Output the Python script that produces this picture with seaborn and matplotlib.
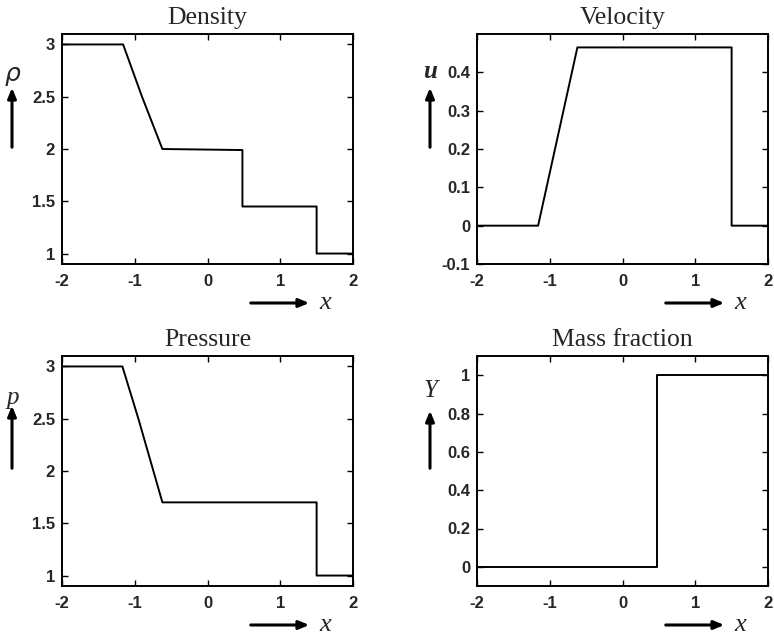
import matplotlib
matplotlib.use("Agg")
import matplotlib.pyplot as plt
import seaborn as sns
import pandas as pd

# ---- data ----
x_rho = [-2.0, -1.16, -0.90, -0.62, 0.48, 0.48, 1.50, 1.50, 2.0]
rho = [3.0, 3.0, 2.50, 2.0, 1.99, 1.45, 1.45, 1.0, 1.0]

x_u = [-2.0, -1.16, -0.62, 1.50, 1.50, 2.0]
u = [0.0, 0.0, 0.465, 0.465, 0.0, 0.0]

x_p = [-2.0, -1.17, -0.95, -0.62, 1.50, 1.50, 2.0]
p = [3.0, 3.0, 2.50, 1.70, 1.70, 1.0, 1.0]

x_Y = [-2.0, 0.47, 0.47, 2.0]
Y = [0.0, 0.0, 1.0, 1.0]

titles = ["Density", "Velocity", "Pressure", "Mass fraction"]
ylabels = [r"$\rho$", "u", "p", "Y"]
xticks = [-2, -1, 0, 1, 2]
yticks_rho = [1, 1.5, 2, 2.5, 3]
yticks_u = [-0.1, 0, 0.1, 0.2, 0.3, 0.4]
yticks_p = [1, 1.5, 2, 2.5, 3]
yticks_Y = [0, 0.2, 0.4, 0.6, 0.8, 1]

sns.set_style("ticks")
plt.rcParams["font.family"] = ["Liberation Sans", "DejaVu Sans"]

W, H = 774, 636
fig = plt.figure(figsize=(W / 100, H / 100), dpi=100)

def frac(px, py):
    return px / W, 1 - py / H

# axes rects in pixels (left, top, right, bottom)
rects = [(62, 34, 353, 264), (477, 34, 768, 264),
         (62, 356, 353, 586), (477, 356, 768, 586)]
panels = [
    (x_rho, rho, yticks_rho, (0.9, 3.1), ["1", "1.5", "2", "2.5", "3"]),
    (x_u, u, yticks_u, (-0.1, 0.5), ["-0.1", "0", "0.1", "0.2", "0.3", "0.4"]),
    (x_p, p, yticks_p, (0.9, 3.1), ["1", "1.5", "2", "2.5", "3"]),
    (x_Y, Y, yticks_Y, (-0.1, 1.1), ["0", "0.2", "0.4", "0.6", "0.8", "1"]),
]

axes = []
for (l, t, r, b), (xs, ys, yt, ylim, ytl), title in zip(rects, panels, titles):
    ax = fig.add_axes([l / W, 1 - b / H, (r - l) / W, (b - t) / H])
    df = pd.DataFrame({"x": xs, "y": ys})
    sns.lineplot(data=df, x="x", y="y", ax=ax, sort=False, estimator=None,
                 color="black", linewidth=1.4)
    ax.set_xlim(-2, 2)
    ax.set_ylim(*ylim)
    ax.set_xticks(xticks)
    ax.set_xticklabels([str(v) for v in xticks])
    ax.set_yticks(yt)
    ax.set_yticklabels(ytl)
    ax.set_xlabel("")
    ax.set_ylabel("")
    ax.tick_params(direction="in", top=True, right=True, length=4, width=1,
                   labelsize=12, color="black")
    ax.tick_params(axis="x", pad=7)
    ax.tick_params(axis="y", pad=5)
    for lab in ax.get_xticklabels() + ax.get_yticklabels():
        lab.set_fontweight("bold")
    for s in ax.spines.values():
        s.set_linewidth(1.4)
        s.set_color("black")
    ax.set_title(title, fontfamily="Liberation Serif", fontsize=18.5, pad=7)
    axes.append(ax)

# y-axis labels with upward arrows (pixel positions)
ylab_pos = [(13, 77, 12, 150, 85), (430, 72, 430, 150, 85),
            (13, 398, 12, 471, 403), (431, 391, 430, 471, 408)]
for lab, (tx, ty, ax_x, y0, y1) in zip(ylabels, ylab_pos):
    fig.text(*frac(tx, ty), lab, fontfamily="Liberation Serif", style="italic",
             fontsize=18, ha="center", va="center",
             fontweight="bold" if lab == "u" else "normal")
    fig.add_artist(matplotlib.patches.FancyArrowPatch(
        frac(ax_x, y0), frac(ax_x, y1), transform=fig.transFigure,
        arrowstyle="-|>,head_length=6,head_width=2.5", color="black",
        linewidth=2.2, mutation_scale=1))

# x-axis labels with rightward arrows
for (l, t, r, b) in rects:
    ya = b + 39
    fig.add_artist(matplotlib.patches.FancyArrowPatch(
        frac(r - 105, ya), frac(r - 41, ya), transform=fig.transFigure,
        arrowstyle="-|>,head_length=6,head_width=2.5", color="black",
        linewidth=2.2, mutation_scale=1))
    fig.text(*frac(r - 28, ya), "x", fontfamily="Liberation Serif", style="italic",
             fontsize=19, ha="center", va="center")

fig.savefig("out.png", dpi=100)
